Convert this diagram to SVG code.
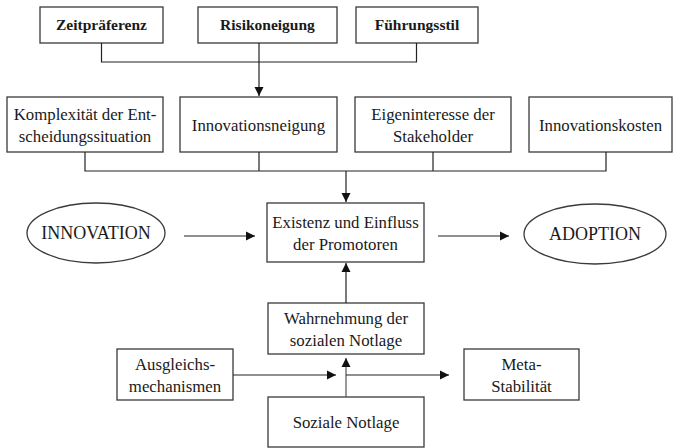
<svg xmlns="http://www.w3.org/2000/svg" width="679" height="448" viewBox="0 0 679 448">
<style>
.box{fill:#fff;stroke:#3a3a3a;stroke-width:1.3}
.t{font-family:"Liberation Serif","DejaVu Serif",serif;font-size:16.8px;fill:#1a1a1a;text-anchor:middle}
.b{font-weight:bold;font-size:15.5px}
.e{font-size:18px}
.ln{fill:none;stroke:#222;stroke-width:1.2}
</style>
<defs>
<marker id="ah" markerWidth="10" markerHeight="10" refX="9" refY="5" orient="auto" markerUnits="userSpaceOnUse">
<path d="M0,0.5 L9,5 L0,9.5 Z" fill="#111"/>
</marker>
</defs>
<g id="zeit"><rect class="box" x="40" y="7" width="123" height="36"/><text class="t b" x="101.5" y="30">Zeitpräferenz</text></g>
<g id="risiko"><rect class="box" x="198" y="7" width="139" height="36"/><text class="t b" x="267.5" y="30">Risikoneigung</text></g>
<g id="fuehrung"><rect class="box" x="356" y="7" width="122" height="36"/><text class="t b" x="417" y="30">Führungsstil</text></g>

<g id="komplex"><rect class="box" x="7" y="97" width="156" height="55"/><text class="t" x="85" y="120">Komplexität der Ent-</text><text class="t" x="85" y="142">scheidungssituation</text></g>
<g id="neigung"><rect class="box" x="180" y="97" width="157" height="55"/><text class="t" x="258.5" y="131">Innovationsneigung</text></g>
<g id="eigen"><rect class="box" x="355" y="97" width="156" height="55"/><text class="t" x="433" y="120">Eigeninteresse der</text><text class="t" x="433" y="142">Stakeholder</text></g>
<g id="kosten"><rect class="box" x="529" y="97" width="143" height="55"/><text class="t" x="600.5" y="131">Innovationskosten</text></g>

<g id="innovation"><ellipse class="box" cx="96" cy="233" rx="69" ry="30"/><text class="t e" x="96" y="239">INNOVATION</text></g>
<g id="existenz"><rect class="box" x="267" y="203" width="157" height="59"/><text class="t" x="345.5" y="228">Existenz und Einfluss</text><text class="t" x="345.5" y="250">der Promotoren</text></g>
<g id="adoption"><ellipse class="box" cx="595" cy="234" rx="71" ry="30"/><text class="t e" x="595" y="240">ADOPTION</text></g>

<g id="wahrnehmung"><rect class="box" x="268" y="303" width="156" height="51"/><text class="t" x="346" y="324">Wahrnehmung der</text><text class="t" x="346" y="346">sozialen Notlage</text></g>
<g id="ausgleich"><rect class="box" x="117" y="349" width="116" height="51"/><text class="t" x="175" y="370">Ausgleichs-</text><text class="t" x="175" y="392">mechanismen</text></g>
<g id="meta"><rect class="box" x="464" y="349" width="115" height="51"/><text class="t" x="521.5" y="370">Meta-</text><text class="t" x="521.5" y="392">Stabilität</text></g>
<g id="sozial"><rect class="box" x="268" y="397" width="156" height="50"/><text class="t" x="346" y="428">Soziale Notlage</text></g>

<g id="connectors">
<path class="ln" d="M101.5,43 V62 H416.5 V43"/>
<path class="ln" d="M259,43 V96" marker-end="url(#ah)"/>
<path class="ln" d="M85,152 V171 H606 V152 M259,152 V171 M433,152 V171"/>
<path class="ln" d="M346,171 V202" marker-end="url(#ah)"/>
<path class="ln" d="M184,236 H255" marker-end="url(#ah)"/>
<path class="ln" d="M438,236 H509" marker-end="url(#ah)"/>
<path class="ln" d="M346,303 V263" marker-end="url(#ah)"/>
<path class="ln" d="M233,375 H336" marker-end="url(#ah)"/>
<path class="ln" d="M346,397 V358" marker-end="url(#ah)" style="stroke:#555"/>
<path class="ln" d="M346,375 H449" marker-end="url(#ah)"/>
</g>
</svg>
